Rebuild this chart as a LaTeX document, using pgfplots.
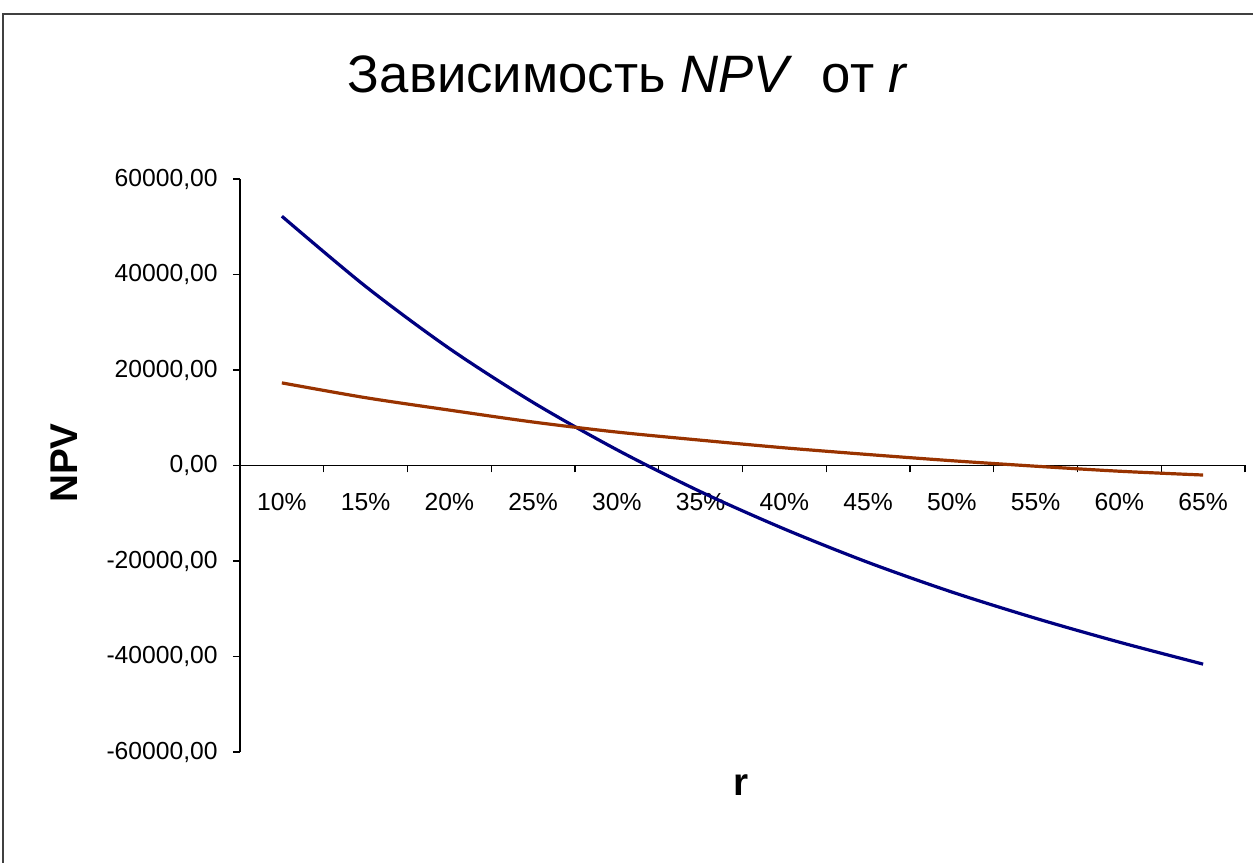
\documentclass[border=0pt]{standalone}
\usepackage{fontspec}
\setmainfont{Liberation Sans}
\usepackage{pgfplots}
\pgfplotsset{compat=1.18}
\definecolor{npvA}{RGB}{0,0,128}
\definecolor{npvB}{RGB}{153,51,0}
\definecolor{frameg}{RGB}{64,64,64}
\begin{document}
\begin{tikzpicture}[x=0.75pt,y=0.75pt]
\useasboundingbox (0,0) rectangle (1253,863);
\fill[white] (0,0) rectangle (1253,863);
\draw[frameg,line width=1.5pt] (3,-60) -- (3,849) -- (1320,849);
\node[anchor=base] at (628,770) {\fontsize{39.5}{46}\selectfont Зависимость \textit{NPV}\ \ от \textit{r}};
\node[rotate=90,anchor=center] at (64,400) {\fontsize{29}{34}\selectfont\bfseries NPV};
\node[anchor=center] at (741,78) {\fontsize{29}{34}\selectfont\bfseries r};
\begin{axis}[
  at={(180pt,83.25pt)}, anchor=south west,
  width=753.75pt, height=429.75pt, scale only axis,
  xmin=-0.5, xmax=11.5, ymin=-60000, ymax=60000,
  scaled y ticks=false,
  axis y line*=left, axis x line*=middle,
  hide obscured x ticks=false, hide obscured y ticks=false,
  axis line style={black,line width=1.1pt},
  tick style={black,line width=1.1pt},
  tick align=outside, major tick length=5.25pt,
  xtick={0.5,1.5,...,11.5},
  xticklabels={10\%,15\%,20\%,25\%,30\%,35\%,40\%,45\%,50\%,55\%,60\%,65\%},
  xticklabel style={font=\fontsize{18.5}{22}\selectfont, xshift=-31.4pt, yshift=-12pt},
  ytick={-60000,-40000,...,60000},
  yticklabels={{-60000,00},{-40000,00},{-20000,00},{0,00},{20000,00},{40000,00},{60000,00}},
  yticklabel style={font=\fontsize{18.5}{22}\selectfont, xshift=-8pt},
  clip=false,
]
\addplot[npvA, line width=2.4pt, smooth, tension=0.5] coordinates {
(0,52200) (1,37500) (2,24500) (3,13200) (4,3300) (5,-5500) (6,-13300) (7,-20300) (8,-26500) (9,-32000) (10,-37000) (11,-41600)};
\addplot[npvB, line width=2.4pt, smooth, tension=0.5] coordinates {
(0,17300) (1,14200) (2,11600) (3,9100) (4,7000) (5,5300) (6,3700) (7,2300) (8,1000) (9,-150) (10,-1200) (11,-2000)};
\end{axis}
\end{tikzpicture}
\end{document}
